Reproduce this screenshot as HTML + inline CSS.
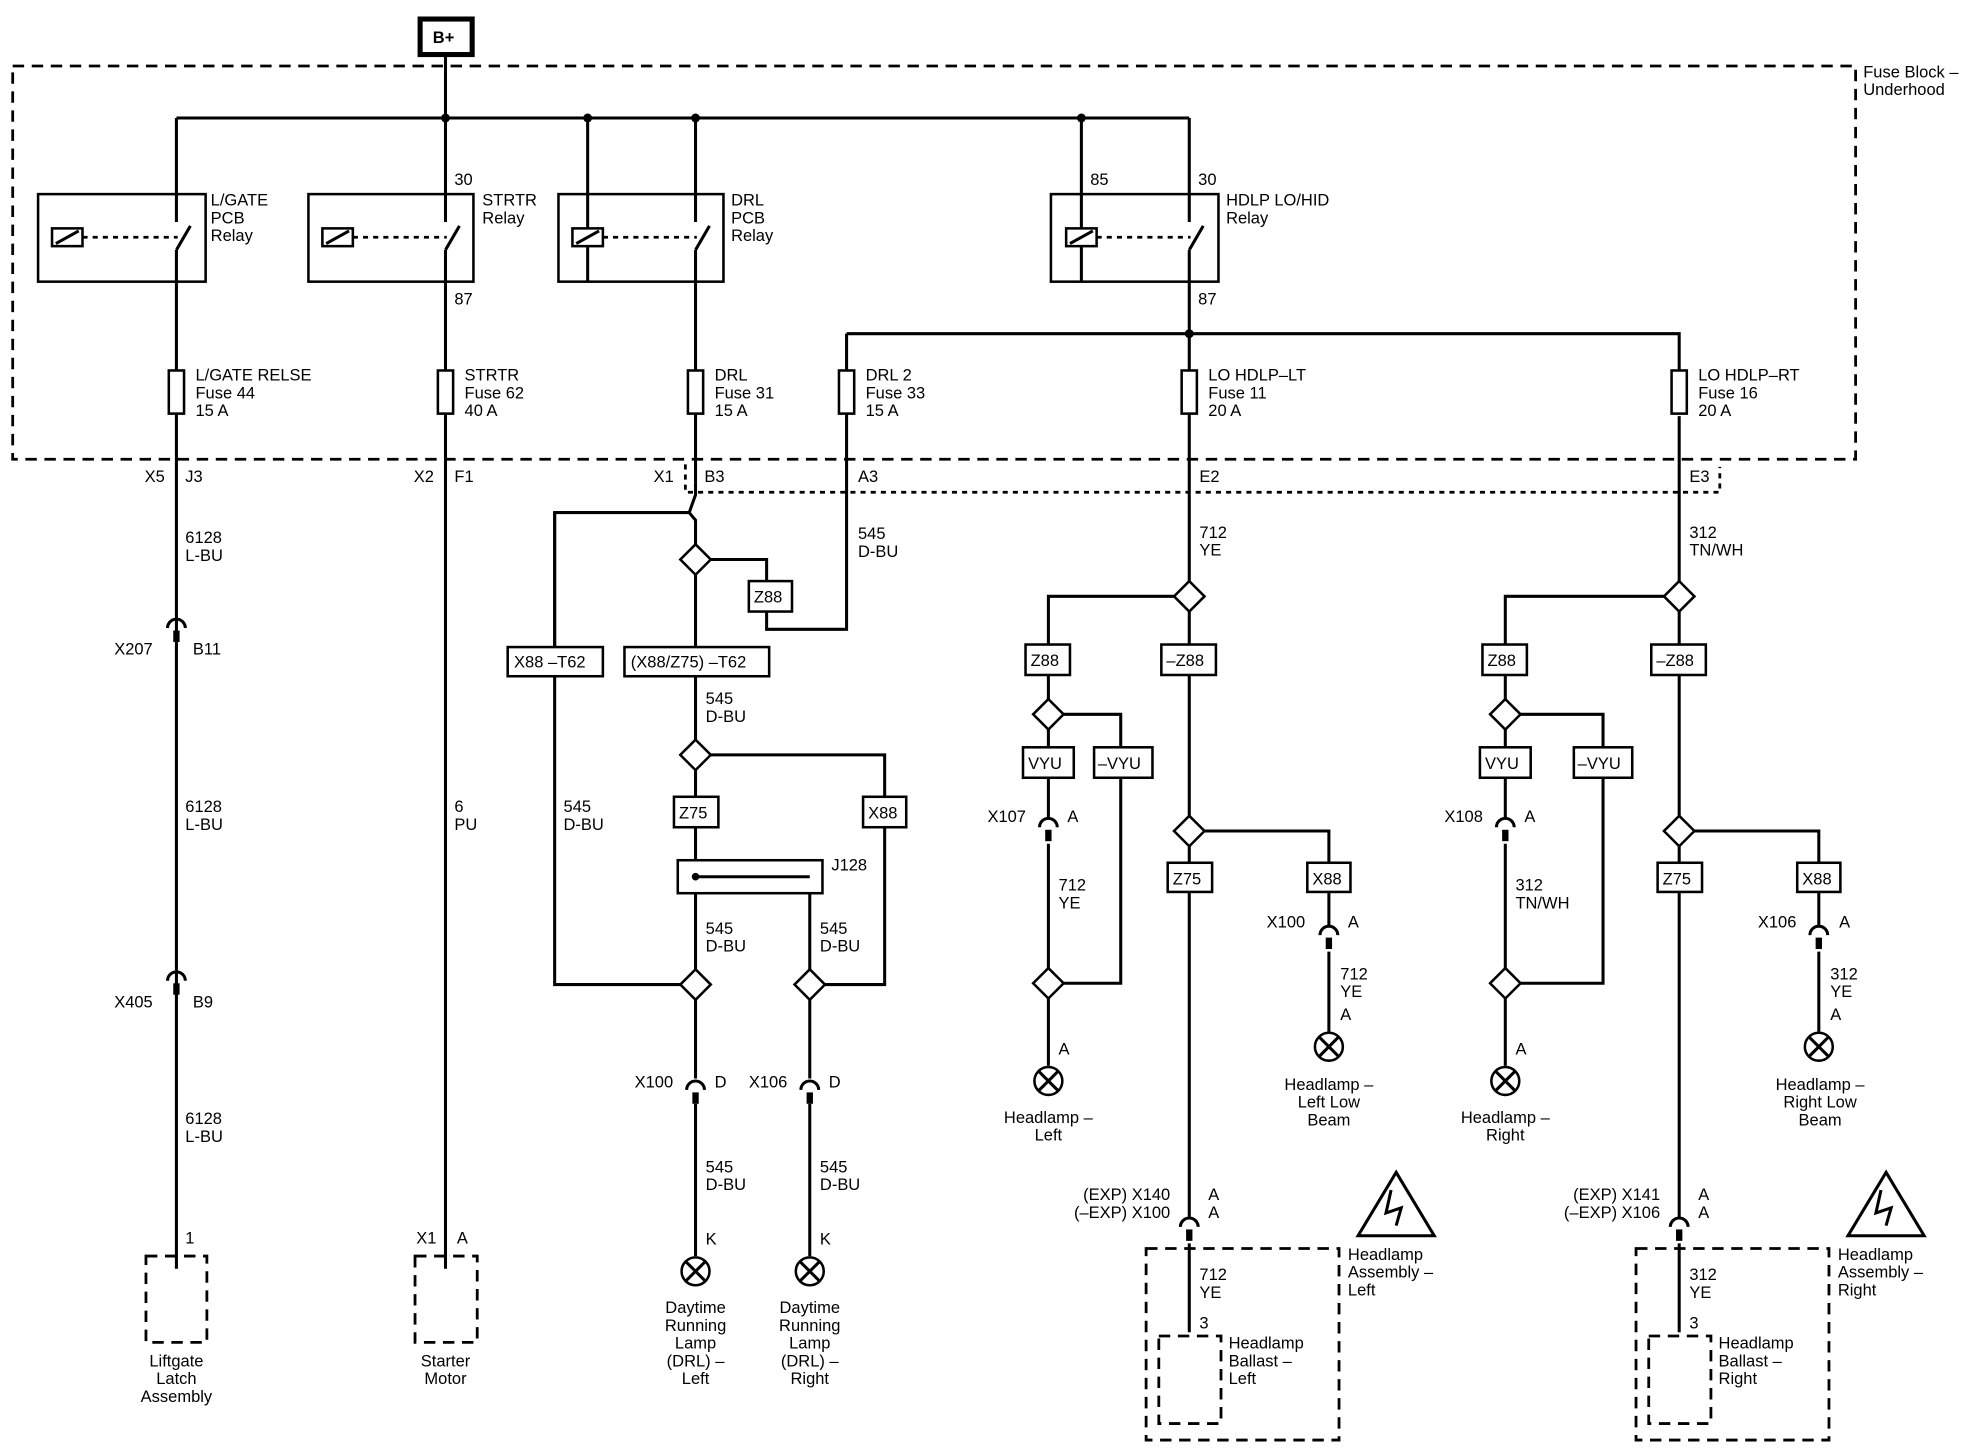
<!DOCTYPE html>
<html><head><meta charset="utf-8"><style>
html,body{margin:0;padding:0;background:#fff;}
svg{display:block;}
text{font-family:"Liberation Sans",Arial,sans-serif;font-size:13px;fill:#000;}
.w{stroke:#000;stroke-width:2.4;fill:none;}
.b{stroke:#000;stroke-width:2;fill:#fff;}
.d{stroke:#000;stroke-width:2.2;fill:none;stroke-dasharray:9 6;}
.dt{stroke:#000;stroke-width:2.2;fill:none;stroke-dasharray:4 4;}
</style></head><body>
<svg width="1980" height="1454" viewBox="0 0 1560 1146" preserveAspectRatio="none" xmlns="http://www.w3.org/2000/svg">
<defs>
<g id="conn"><path d="M-7 7 A7 7 0 0 1 7 7" class="w"/><line x1="0" y1="9" x2="0" y2="18" stroke="#000" stroke-width="5"/></g>
<g id="dia"><polygon points="0,-12 12,0 0,12 -12,0" class="b" stroke-width="2.2"/></g>
<g id="lamp"><circle r="11" class="b" stroke-width="2.2"/><line x1="-7.5" y1="-7.5" x2="7.5" y2="7.5" class="w"/><line x1="-7.5" y1="7.5" x2="7.5" y2="-7.5" class="w"/></g>
<g id="fuse"><rect x="-6" y="0" width="12" height="34" class="b"/></g>
<g id="coil"><rect x="0" y="0" width="24" height="14" class="b" stroke-width="2.4"/><line x1="3" y1="12" x2="21" y2="2" class="w"/></g>
</defs>

<!-- B+ -->
<rect x="331" y="15" width="41" height="28" fill="#fff" stroke="#000" stroke-width="4"/>
<text x="341" y="34" font-weight="bold">B+</text>
<line x1="351" y1="43" x2="351" y2="93" class="w"/>

<!-- fuse block -->
<rect x="10" y="52" width="1452" height="310" class="d"/>
<text x="1468" y="61">Fuse Block –</text><text x="1468" y="75">Underhood</text>

<!-- bus -->
<line x1="139" y1="93" x2="937" y2="93" class="w"/>
<circle cx="351" cy="93" r="3.5"/><circle cx="463" cy="93" r="3.5"/><circle cx="548" cy="93" r="3.5"/><circle cx="852" cy="93" r="3.5"/>

<!-- relays -->
<g>
<rect x="30" y="153" width="132" height="69" class="b"/>
<rect x="243" y="153" width="130" height="69" class="b"/>
<rect x="440" y="153" width="130" height="69" class="b"/>
<rect x="828" y="153" width="132" height="69" class="b"/>
<use href="#coil" x="41" y="180"/><use href="#coil" x="254" y="180"/><use href="#coil" x="451" y="180"/><use href="#coil" x="840" y="180"/>
<line x1="65" y1="187" x2="140" y2="187" class="dt"/>
<line x1="278" y1="187" x2="352" y2="187" class="dt"/>
<line x1="475" y1="187" x2="549" y2="187" class="dt"/>
<line x1="864" y1="187" x2="938" y2="187" class="dt"/>
<line x1="463" y1="93" x2="463" y2="180" class="w"/>
<line x1="852" y1="93" x2="852" y2="180" class="w"/>
<line x1="463" y1="194" x2="463" y2="222" class="w"/>
<line x1="852" y1="194" x2="852" y2="222" class="w"/>
</g>
<g class="w">
<path d="M139 93 V175 M139 197 V1000 M139 197 L150 178"/>
<path d="M351 93 V175 M351 197 V1000 M351 197 L362 178"/>
<path d="M548 93 V175 M548 197 V380 M548 197 L559 178"/>
<path d="M937 93 V175 M937 197 V458 M937 197 L948 178"/>
<path d="M667 263 H1323 V292 M667 263 V496 H604 V482"/>
<path d="M1323 328 V458"/>
<path d="M548 380 V390 L543 404 H437 V776 H536 M543 404 L548 410 V429"/>
</g>
<circle cx="937" cy="263" r="3.5"/>
<text x="166" y="162">L/GATE</text><text x="166" y="176">PCB</text><text x="166" y="190">Relay</text>
<text x="380" y="162">STRTR</text><text x="380" y="176">Relay</text>
<text x="576" y="162">DRL</text><text x="576" y="176">PCB</text><text x="576" y="190">Relay</text>
<text x="966" y="162">HDLP LO/HID</text><text x="966" y="176">Relay</text>
<text x="358" y="146">30</text><text x="358" y="240">87</text>
<text x="859" y="146">85</text><text x="944" y="146">30</text><text x="944" y="240">87</text>

<!-- fuses -->
<use href="#fuse" x="139" y="292"/><use href="#fuse" x="351" y="292"/><use href="#fuse" x="548" y="292"/>
<use href="#fuse" x="667" y="292"/><use href="#fuse" x="937" y="292"/><use href="#fuse" x="1323" y="292"/>
<text x="154" y="300">L/GATE RELSE</text><text x="154" y="314">Fuse 44</text><text x="154" y="328">15 A</text>
<text x="366" y="300">STRTR</text><text x="366" y="314">Fuse 62</text><text x="366" y="328">40 A</text>
<text x="563" y="300">DRL</text><text x="563" y="314">Fuse 31</text><text x="563" y="328">15 A</text>
<text x="682" y="300">DRL 2</text><text x="682" y="314">Fuse 33</text><text x="682" y="328">15 A</text>
<text x="952" y="300">LO HDLP–LT</text><text x="952" y="314">Fuse 11</text><text x="952" y="328">20 A</text>
<text x="1338" y="300">LO HDLP–RT</text><text x="1338" y="314">Fuse 16</text><text x="1338" y="328">20 A</text>

<!-- connector row -->
<text x="114" y="380">X5</text><text x="146" y="380">J3</text>
<text x="326" y="380">X2</text><text x="358" y="380">F1</text>
<text x="515" y="380">X1</text><text x="555" y="380">B3</text>
<text x="676" y="380">A3</text><text x="945" y="380">E2</text><text x="1331" y="380">E3</text>
<path d="M540 366 V388 H1355 V368" class="dt"/>

<!-- liftgate -->
<text x="146" y="428">6128</text><text x="146" y="442">L-BU</text>
<use href="#conn" x="139" y="488"/><text x="90" y="516">X207</text><text x="152" y="516">B11</text>
<text x="146" y="640">6128</text><text x="146" y="654">L-BU</text>
<use href="#conn" x="139" y="766"/><text x="90" y="794">X405</text><text x="152" y="794">B9</text>
<text x="146" y="886">6128</text><text x="146" y="900">L-BU</text>
<text x="146" y="980">1</text>
<rect x="115" y="990" width="48" height="68" class="d"/>
<text x="139" y="1077" text-anchor="middle">Liftgate</text><text x="139" y="1091" text-anchor="middle">Latch</text><text x="139" y="1105" text-anchor="middle">Assembly</text>

<!-- starter -->
<text x="358" y="640">6</text><text x="358" y="654">PU</text>
<text x="328" y="980">X1</text><text x="360" y="980">A</text>
<rect x="327" y="990" width="49" height="68" class="d"/>
<text x="351" y="1077" text-anchor="middle">Starter</text><text x="351" y="1091" text-anchor="middle">Motor</text>

<!-- DRL section -->
<g class="w">
<path d="M560 441 H604 V458"/>
<path d="M548 453 V510 M548 533 V583 M560 595 H697 V628 M697 652 V776 H650"/>
<path d="M548 607 V628 M548 652 V764 M548 788 V850 M548 870 V990"/>
<path d="M638 691 V764 M638 788 V850 M638 870 V990"/>
<path d="M437 404 V510"/>
</g>
<use href="#dia" x="548" y="441"/>
<rect x="590" y="458" width="34" height="24" class="b"/><text x="594" y="475">Z88</text>
<text x="676" y="425">545</text><text x="676" y="439">D-BU</text>
<rect x="400" y="510" width="75" height="23" class="b"/><text x="405" y="526">X88 –T62</text>
<rect x="492" y="510" width="114" height="23" class="b"/><text x="497" y="526">(X88/Z75) –T62</text>
<text x="556" y="555">545</text><text x="556" y="569">D-BU</text>
<use href="#dia" x="548" y="595"/>
<rect x="531" y="628" width="35" height="24" class="b"/><text x="535" y="645">Z75</text>
<rect x="680" y="628" width="34" height="24" class="b"/><text x="684" y="645">X88</text>
<text x="444" y="640">545</text><text x="444" y="654">D-BU</text>
<rect x="534" y="678" width="114" height="26" class="b"/>
<line x1="548" y1="691" x2="638" y2="691" class="w"/><circle cx="548" cy="691" r="3"/>
<text x="655" y="686">J128</text>
<text x="556" y="736">545</text><text x="556" y="750">D-BU</text>
<text x="646" y="736">545</text><text x="646" y="750">D-BU</text>
<use href="#dia" x="548" y="776"/><use href="#dia" x="638" y="776"/>
<use href="#conn" x="548" y="852"/><use href="#conn" x="638" y="852"/>
<text x="500" y="857">X100</text><text x="563" y="857">D</text>
<text x="590" y="857">X106</text><text x="653" y="857">D</text>
<text x="556" y="924">545</text><text x="556" y="938">D-BU</text>
<text x="646" y="924">545</text><text x="646" y="938">D-BU</text>
<text x="556" y="981">K</text><text x="646" y="981">K</text>
<use href="#lamp" x="548" y="1002"/><use href="#lamp" x="638" y="1002"/>
<text x="548" y="1035" text-anchor="middle">Daytime</text><text x="548" y="1049" text-anchor="middle">Running</text><text x="548" y="1063" text-anchor="middle">Lamp</text><text x="548" y="1077" text-anchor="middle">(DRL) –</text><text x="548" y="1091" text-anchor="middle">Left</text>
<text x="638" y="1035" text-anchor="middle">Daytime</text><text x="638" y="1049" text-anchor="middle">Running</text><text x="638" y="1063" text-anchor="middle">Lamp</text><text x="638" y="1077" text-anchor="middle">(DRL) –</text><text x="638" y="1091" text-anchor="middle">Right</text>

<!-- Headlamp main (left) -->
<g id="hl">
<g class="w">
<path d="M937 482 V508 M937 532 V643 M949 655 H1047 V680 M1047 703 V730 M1047 750 V813"/>
<path d="M937 667 V680 M937 703 V960 M937 980 V1050"/>
</g>
<use href="#dia" x="937" y="470"/>
<rect x="915" y="508" width="43" height="24" class="b"/><text x="919" y="525">–Z88</text>
<use href="#dia" x="937" y="655"/>
<rect x="920" y="680" width="35" height="23" class="b"/><text x="924" y="697">Z75</text>
<rect x="1030" y="680" width="34" height="23" class="b"/><text x="1034" y="697">X88</text>
<use href="#conn" x="1047" y="730"/>
<use href="#lamp" x="1047" y="825"/>
<use href="#conn" x="937" y="960"/>
<rect x="903" y="984" width="152" height="151" class="d"/>
<rect x="913" y="1053" width="49" height="69" class="d"/>
<polygon points="1100,924 1130,974 1070,974" fill="#fff" stroke="#000" stroke-width="2.4"/>
<path d="M1096 938 L1092 956 L1104 952 L1100 966" class="w" stroke-width="2"/>
</g>
<use href="#hl" x="386" y="0"/>

<!-- left VYU branch -->
<g class="w">
<path d="M925 470 H826 V508 M826 532 V551 M838 563 H883 V589 M883 613 V775 H838"/>
<path d="M826 575 V589 M826 613 V645 M826 665 V763 M826 787 V840"/>
</g>
<rect x="808" y="508" width="35" height="24" class="b"/><text x="812" y="525">Z88</text>
<use href="#dia" x="826" y="563"/>
<rect x="806" y="589" width="40" height="24" class="b"/><text x="810" y="606">VYU</text>
<rect x="862" y="589" width="46" height="24" class="b"/><text x="865" y="606">–VYU</text>
<use href="#conn" x="826" y="645"/>
<use href="#dia" x="826" y="775"/>
<use href="#lamp" x="826" y="852"/>

<!-- right VYU branch -->
<g class="w">
<path d="M1311 470 H1186 V508 M1186 532 V551 M1198 563 H1263 V589 M1263 613 V775 H1198"/>
<path d="M1186 575 V589 M1186 613 V645 M1186 665 V763 M1186 787 V840"/>
</g>
<rect x="1168" y="508" width="35" height="24" class="b"/><text x="1172" y="525">Z88</text>
<use href="#dia" x="1186" y="563"/>
<rect x="1166" y="589" width="40" height="24" class="b"/><text x="1170" y="606">VYU</text>
<rect x="1240" y="589" width="46" height="24" class="b"/><text x="1243" y="606">–VYU</text>
<use href="#conn" x="1186" y="645"/>
<use href="#dia" x="1186" y="775"/>
<use href="#lamp" x="1186" y="852"/>

<!-- left labels -->
<text x="945" y="424">712</text><text x="945" y="438">YE</text>
<text x="778" y="648">X107</text><text x="841" y="648">A</text>
<text x="834" y="702">712</text><text x="834" y="716">YE</text>
<text x="834" y="831">A</text>
<text x="826" y="885" text-anchor="middle">Headlamp –</text><text x="826" y="899" text-anchor="middle">Left</text>
<text x="998" y="731">X100</text><text x="1062" y="731">A</text>
<text x="1056" y="772">712</text><text x="1056" y="786">YE</text><text x="1056" y="804">A</text>
<text x="1047" y="859" text-anchor="middle">Headlamp –</text><text x="1047" y="873" text-anchor="middle">Left Low</text><text x="1047" y="887" text-anchor="middle">Beam</text>
<text x="922" y="946" text-anchor="end">(EXP) X140</text><text x="922" y="960" text-anchor="end">(–EXP) X100</text>
<text x="952" y="946">A</text><text x="952" y="960">A</text>
<text x="945" y="1009">712</text><text x="945" y="1023">YE</text><text x="945" y="1047">3</text>
<text x="1062" y="993">Headlamp</text><text x="1062" y="1007">Assembly –</text><text x="1062" y="1021">Left</text>
<text x="968" y="1063">Headlamp</text><text x="968" y="1077">Ballast –</text><text x="968" y="1091">Left</text>

<!-- right labels -->
<text x="1331" y="424">312</text><text x="1331" y="438">TN/WH</text>
<text x="1138" y="648">X108</text><text x="1201" y="648">A</text>
<text x="1194" y="702">312</text><text x="1194" y="716">TN/WH</text>
<text x="1194" y="831">A</text>
<text x="1186" y="885" text-anchor="middle">Headlamp –</text><text x="1186" y="899" text-anchor="middle">Right</text>
<text x="1385" y="731">X106</text><text x="1449" y="731">A</text>
<text x="1442" y="772">312</text><text x="1442" y="786">YE</text><text x="1442" y="804">A</text>
<text x="1434" y="859" text-anchor="middle">Headlamp –</text><text x="1434" y="873" text-anchor="middle">Right Low</text><text x="1434" y="887" text-anchor="middle">Beam</text>
<text x="1308" y="946" text-anchor="end">(EXP) X141</text><text x="1308" y="960" text-anchor="end">(–EXP) X106</text>
<text x="1338" y="946">A</text><text x="1338" y="960">A</text>
<text x="1331" y="1009">312</text><text x="1331" y="1023">YE</text><text x="1331" y="1047">3</text>
<text x="1448" y="993">Headlamp</text><text x="1448" y="1007">Assembly –</text><text x="1448" y="1021">Right</text>
<text x="1354" y="1063">Headlamp</text><text x="1354" y="1077">Ballast –</text><text x="1354" y="1091">Right</text>
</svg>
</body></html>
